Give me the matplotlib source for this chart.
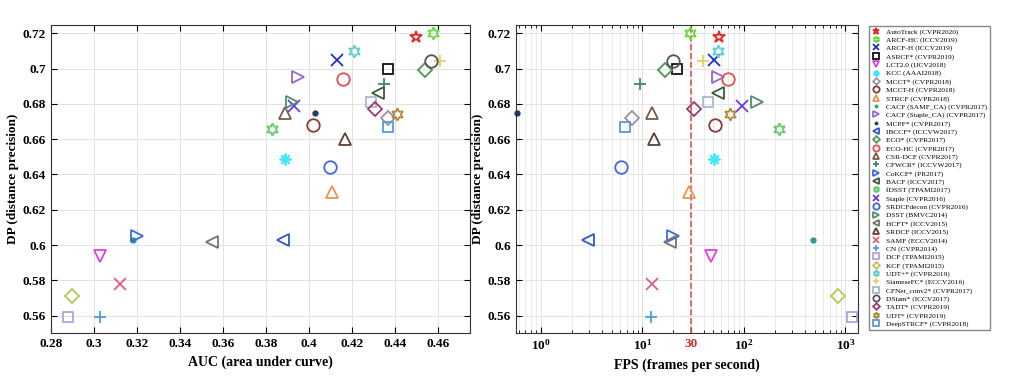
import matplotlib
matplotlib.use("Agg")
import matplotlib.pyplot as plt

plt.rcParams['font.family'] = ['Liberation Serif', 'DejaVu Serif']
plt.rcParams['mathtext.fontset'] = 'custom'
plt.rcParams['mathtext.rm'] = 'Liberation Serif'
plt.rcParams['mathtext.bf'] = 'Liberation Serif:bold'

# tracker names (legend order)
trackers = ['AutoTrack (CVPR2020)', 'ARCF-HC (ICCV2019)', 'ARCF-H (ICCV2019)', 'ASRCF* (CVPR2019)',
            'LCT2.0 (IJCV2018)', 'KCC (AAAI2018)', 'MCCT* (CVPR2018)', 'MCCT-H (CVPR2018)',
            'STRCF (CVPR2018)', 'CACF (SAMF_CA) (CVPR2017)', 'CACF (Staple_CA) (CVPR2017)',
            'MCPF* (CVPR2017)', 'IBCCF* (ICCVW2017)', 'ECO* (CVPR2017)', 'ECO-HC (CVPR2017)',
            'CSR-DCF (CVPR2017)', 'CFWCR* (ICCVW2017)', 'CoKCF* (PR2017)', 'BACF (ICCV2017)',
            'fDSST (TPAMI2017)', 'Staple (CVPR2016)', 'SRDCFdecon (CVPR2016)', 'DSST (BMVC2014)',
            'HCFT* (ICCV2015)', 'SRDCF (ICCV2015)', 'SAMF (ECCV2014)', 'CN (CVPR2014)',
            'DCF (TPAMI2015)', 'KCF (TPAMI2015)', 'UDT+* (CVPR2019)', 'SiameseFC* (ECCV2016)',
            'CFNet_conv2* (CVPR2017)', 'DSiam* (ICCV2017)', 'TADT* (CVPR2019)', 'UDT* (CVPR2019)',
            'DeepSTRCF* (CVPR2018)']

auc = [0.450, 0.458, 0.413, 0.437, 0.303, 0.389, 0.437, 0.402, 0.411, 0.318, 0.395,
       0.403, 0.388, 0.454, 0.416, 0.389, 0.435, 0.320, 0.432, 0.383, 0.393, 0.410,
       0.392, 0.355, 0.417, 0.312, 0.303, 0.288, 0.290, 0.421, 0.461, 0.429, 0.457,
       0.431, 0.441, 0.437]

dp = [0.718, 0.720, 0.705, 0.700, 0.594, 0.649, 0.672, 0.668, 0.630, 0.603, 0.695,
      0.675, 0.603, 0.699, 0.694, 0.675, 0.691, 0.605, 0.686, 0.666, 0.679, 0.644,
      0.681, 0.602, 0.660, 0.578, 0.559, 0.559, 0.571, 0.710, 0.704, 0.681, 0.704,
      0.677, 0.674, 0.667]

fps = [57, 29.5, 50.6, 22.0, 47.3, 50.6, 7.8, 51.8, 28.5, 475, 55,
       0.58, 2.9, 16.7, 70, 12.3, 9.4, 20.1, 55, 221, 96, 6.1,
       133, 18.7, 12.9, 12.3, 12.0, 1151, 838, 55, 39.2, 44.5, 19.8,
       32.2, 72.8, 6.7]

# marker / colour per tracker (styles)
hexagram = (6, 1, 0)
markers = ['*', hexagram, 'x', 's', 'v', (8, 2, 0), 'D', 'o', '^', '.', '>',
           '.', '<', 'D', 'o', '^', '+', '>', '<', hexagram, 'x', 'o',
           '>', '<', '^', 'x', '+', 's', 'D', hexagram, '+', 's', 'o',
           'D', hexagram, 's']
colors = ['#E4282B', '#66DD44', '#1F2FD0', '#111111', '#E040E0', '#40E8F8', '#9A90A8',
          '#8B3A3A', '#E8964E', '#2A9D8F', '#9966CC', '#1F3B73', '#3355CC', '#4C9A4C',
          '#E05050', '#7A5A44', '#3D8A6E', '#3A6AE0', '#3C5A3C', '#66CC66', '#6A3DD8',
          '#4466DD', '#4F8F6F', '#707868', '#5A4030', '#E06080', '#4A9EE0', '#B8A0D8',
          '#B8C850', '#60D0D0', '#E8D060', '#A8B8C8', '#505560', '#9A3A70', '#B08A3A',
          '#5A9AD8']

fig = plt.figure(figsize=(10.1, 3.78), dpi=100)
ax1 = fig.add_axes([0.0505, 0.119, 0.4148, 0.815])
ax2 = fig.add_axes([0.5109, 0.119, 0.3386, 0.815])

handles = []
for i in range(len(trackers)):
    m = markers[i]
    c = colors[i]
    if m == '.':
        kw = dict(marker='o', markersize=3.5, mfc=c, mec=c)
    elif m in ('x', '+', (8, 2, 0)):
        kw = dict(marker=m, markersize=8.5, mec=c, mew=1.3)
    elif m == 'D':
        kw = dict(marker=m, markersize=6.8, mfc='none', mec=c, mew=1.3)
    elif m == 's':
        kw = dict(marker=m, markersize=7.5, mfc='none', mec=c, mew=1.3)
    else:
        kw = dict(marker=m, markersize=9, mfc='none', mec=c, mew=1.3)
    h, = ax1.plot([auc[i]], [dp[i]], ls='none', clip_on=False, label=trackers[i], **kw)
    ax2.plot([fps[i]], [dp[i]], ls='none', clip_on=False, **kw)
    handles.append(h)

ax1.set_xlim(0.28, 0.475)
ax1.set_ylim(0.5502, 0.7247)
ax1.set_xticks([0.28, 0.3, 0.32, 0.34, 0.36, 0.38, 0.4, 0.42, 0.44, 0.46])
ax1.set_xticklabels(['0.28', '0.3', '0.32', '0.34', '0.36', '0.38', '0.4', '0.42', '0.44', '0.46'])
ax1.set_xlabel('AUC (area under curve)', fontsize=10, fontweight='bold')

ax2.set_xscale('log')
ax2.set_xlim(0.567, 1330)
ax2.set_ylim(0.5502, 0.7247)
ax2.axvline(30, color='#E8504A', ls='--', lw=1.2, zorder=1)
ax2.set_xticks([1, 10, 30, 100, 1000])
ax2.set_xticklabels([r'$\mathbf{10^{0}}$', r'$\mathbf{10^{1}}$', '30',
                     r'$\mathbf{10^{2}}$', r'$\mathbf{10^{3}}$'])
ax2.get_xticklabels()[2].set_color('#D62A2A')
ax2.set_xlabel('FPS (frames per second)', fontsize=10, fontweight='bold')
ax2.grid(True, which='minor', axis='x', color='#E6E6E6', lw=0.6)

for ax in (ax1, ax2):
    yt = [0.56, 0.58, 0.6, 0.62, 0.64, 0.66, 0.68, 0.7, 0.72]
    ax.set_yticks(yt)
    ax.set_yticklabels(['0.56', '0.58', '0.6', '0.62', '0.64', '0.66', '0.68', '0.7', '0.72'])
    ax.set_ylabel('DP (distance precision)', fontsize=9.5, fontweight='bold', labelpad=3)
    ax.grid(True, which='major', color='#E2E2E2', lw=0.7)
    ax.set_axisbelow(True)
    ax.tick_params(which='both', direction='in', top=True, right=True, labelsize=9.5)
    ax.tick_params(which='major', length=4)
    ax.tick_params(which='minor', length=2)
    for lbl in ax.get_xticklabels() + ax.get_yticklabels():
        lbl.set_fontweight('bold')
    for s in ax.spines.values():
        s.set_color('#333333')
        s.set_linewidth(0.8)

fig.legend(handles=handles, loc='upper left', bbox_to_anchor=(0.8564, 0.942),
           fontsize=5.3, markerscale=0.5, labelspacing=0.25, handletextpad=0.8,
           borderpad=0.35, handlelength=1.2, fancybox=False, edgecolor='#888888',
           framealpha=1)

fig.savefig('out.png', dpi=100)
